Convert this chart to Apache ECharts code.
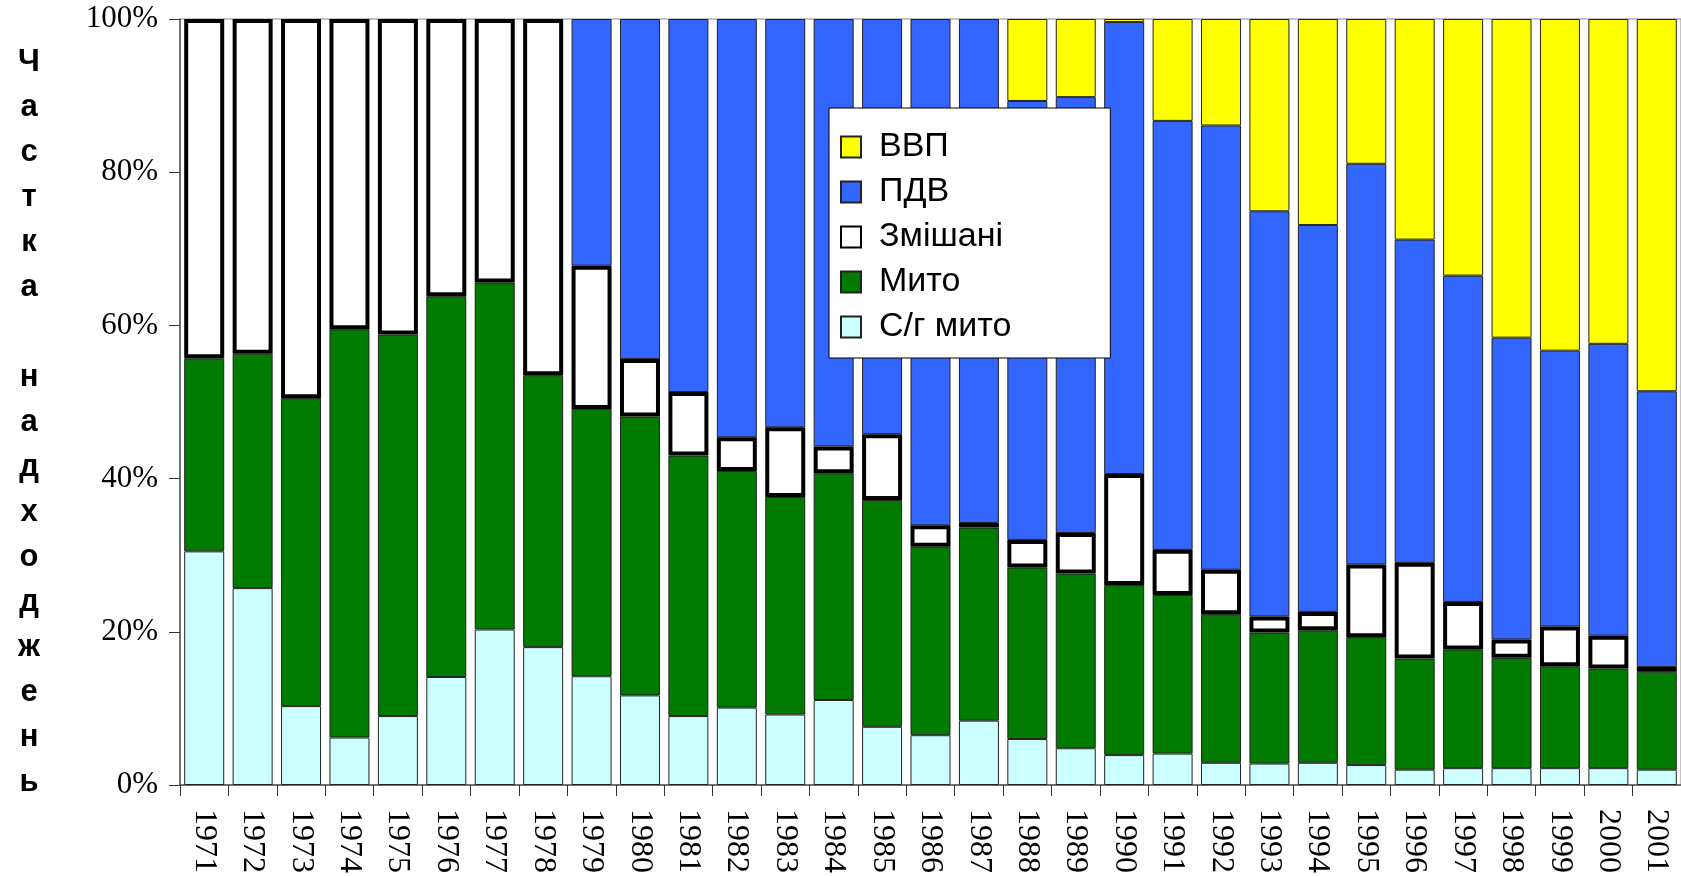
<!DOCTYPE html>
<html>
<head>
<meta charset="utf-8">
<script src="https://cdn.jsdelivr.net/npm/echarts@6/dist/echarts.min.js"></script>
<style>
  html, body { margin: 0; padding: 0; background: #fff; }
  #chart { width: 1681px; height: 876px; }
</style>
</head>
<body>
<div id="chart"></div>
<script>
// Categories (years)
var years = ['1971','1972','1973','1974','1975','1976','1977','1978','1979','1980',
             '1981','1982','1983','1984','1985','1986','1987','1988','1989','1990',
             '1991','1992','1993','1994','1995','1996','1997','1998','1999','2000','2001'];

// Shares of revenue, % (stacked bottom to top)
var sgMyto = [30.5,25.7,10.3,6.2,9.0,14.1,20.3,18.0,14.2,11.7,
              9.0,10.1,9.2,11.1,7.6,6.5,8.4,6.0,4.8,3.9,
              4.1,2.9,2.8,2.9,2.6,2.0,2.2,2.2,2.2,2.2,2.0];
var myto = [25.2,30.6,40.2,53.3,49.8,49.7,45.3,35.5,34.9,36.4,
            34.0,30.9,28.4,29.6,29.6,24.6,25.2,22.4,22.8,22.2,
            20.7,19.4,17.1,17.3,16.7,14.5,15.5,14.4,13.3,13.0,12.8];
var zmishani = [44.3,43.7,49.5,40.5,41.2,36.2,34.4,46.5,18.7,7.5,
                8.3,4.4,9.1,3.5,8.6,2.8,0.6,3.6,5.3,14.5,
                5.9,5.8,2.1,2.4,9.5,12.5,6.2,2.4,5.2,4.3,0.6];
var pdv = [null,null,null,null,null,null,null,null,32.2,44.4,
           48.7,54.6,53.3,55.8,54.2,66.1,65.8,57.3,56.9,59.0,
           56.0,58.0,52.9,50.5,52.3,42.2,42.6,39.4,36.0,38.1,36.0];
var vvp = [null,null,null,null,null,null,null,null,null,null,
           null,null,null,null,null,null,null,10.7,10.2,0.4,
           13.3,13.9,25.1,26.9,18.9,28.8,33.5,41.6,43.3,42.4,48.6];

var yTicks = [0, 20, 40, 60, 80, 100];
var legendOrder = ['ВВП', 'ПДВ', 'Змішані', 'Мито', 'С/г мито'];
var yTitle = 'Частка надходжень';

var chart = echarts.init(document.getElementById('chart'));
var thin = { borderColor: '#222', borderWidth: 1 };

function bar(name, data, color, extra) {
  var s = {
    name: name,
    type: 'bar',
    stack: 'total',
    barWidth: 40,
    data: data,
    itemStyle: Object.assign({ color: color }, thin)
  };
  return Object.assign(s, extra || {});
}

chart.setOption({
  animation: false,
  backgroundColor: '#fff',
  grid: {
    left: 180, right: -5, top: 19, bottom: 90,
    show: true, borderColor: '#888', borderWidth: 1, backgroundColor: 'transparent'
  },
  legend: {
    data: legendOrder,
    orient: 'vertical',
    icon: 'rect',
    left: 829, top: 108,
    backgroundColor: '#fff',
    borderColor: '#000',
    borderWidth: 1,
    padding: [22, 99, 14, 11],
    itemWidth: 20,
    itemHeight: 21,
    itemGap: 11,
    textStyle: {
      fontFamily: '"Liberation Sans", Arial, sans-serif',
      fontSize: 34,
      color: '#000',
      padding: [0, 0, 0, 13]
    }
  },
  graphic: [{
    type: 'text',
    x: 29,
    y: 40,
    style: {
      text: yTitle.split('').join('\n'),
      font: 'bold 31px "Liberation Sans", Arial, sans-serif',
      fill: '#000',
      lineHeight: 45,
      align: 'center',
      textAlign: 'center',
      verticalAlign: 'top'
    }
  }],
  xAxis: {
    type: 'category',
    data: years,
    axisLine: { lineStyle: { color: '#555', width: 1.5 } },
    axisTick: { show: true, length: 11, lineStyle: { color: '#333' } },
    axisLabel: {
      rotate: -90,
      interval: 0,
      margin: 24,
      fontFamily: '"Liberation Serif", "Times New Roman", serif',
      fontSize: 32,
      color: '#000'
    }
  },
  yAxis: {
    type: 'value',
    min: yTicks[0],
    max: yTicks[yTicks.length - 1],
    interval: 20,
    axisLine: { show: true, lineStyle: { color: '#555', width: 1.5 } },
    axisTick: { show: true, length: 11, lineStyle: { color: '#333' } },
    splitLine: { show: false },
    axisLabel: {
      formatter: '{value}%',
      margin: 22,
      fontFamily: '"Liberation Serif", "Times New Roman", serif',
      fontSize: 31,
      color: '#000'
    }
  },
  series: [
    bar('С/г мито', sgMyto, '#CCFFFF'),
    bar('Мито', myto, '#007A00'),
    bar('Змішані', zmishani, '#FFFFFF', {
      z: 4,
      itemStyle: { color: '#FFFFFF', borderColor: '#000', borderWidth: 4 }
    }),
    bar('ПДВ', pdv, '#3366FF'),
    bar('ВВП', vvp, '#FFFF00')
  ]
});
</script>
</body>
</html>
